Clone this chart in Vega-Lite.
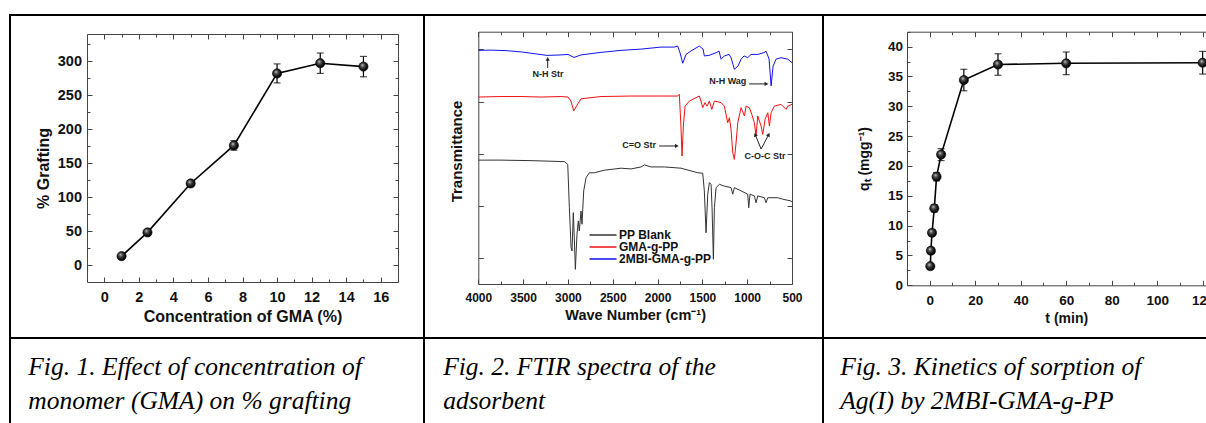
{
  "$schema": "https://vega.github.io/schema/vega-lite/v6.json",
  "background": "white",
  "padding": {"left": 9, "top": 14, "right": 0, "bottom": 0},
  "spacing": 0,
  "bounds": "flush",
  "columns": 3,
  "resolve": {"legend": {"color": "independent"}},
  "datasets": {
    "graft": [
      {"gma": 1, "graft": 13, "lo": 10, "hi": 16},
      {"gma": 2.5, "graft": 48, "lo": 45, "hi": 51},
      {"gma": 5, "graft": 120, "lo": 116, "hi": 124},
      {"gma": 7.5, "graft": 176, "lo": 169, "hi": 183},
      {"gma": 10, "graft": 282, "lo": 268, "hi": 296},
      {"gma": 12.5, "graft": 297, "lo": 282, "hi": 312},
      {"gma": 15, "graft": 292, "lo": 277, "hi": 307}
    ],
    "kinetics": [
      {"t": 0.25, "q": 3.2, "lo": 2.8, "hi": 3.6},
      {"t": 0.5, "q": 5.8, "lo": 5.3, "hi": 6.3},
      {"t": 1, "q": 8.8, "lo": 8.3, "hi": 9.3},
      {"t": 2, "q": 12.9, "lo": 12.3, "hi": 13.5},
      {"t": 3, "q": 18.2, "lo": 17.5, "hi": 18.9},
      {"t": 5, "q": 21.9, "lo": 20.9, "hi": 22.9},
      {"t": 15, "q": 34.4, "lo": 32.6, "hi": 36.2},
      {"t": 30, "q": 37.0, "lo": 35.2, "hi": 38.8},
      {"t": 60, "q": 37.2, "lo": 35.3, "hi": 39.1},
      {"t": 120, "q": 37.3, "lo": 35.4, "hi": 39.2}
    ],
    "spectra": [
      {"series": "PP Blank", "wn": 4000, "T": 49.1}, {"series": "PP Blank", "wn": 3747, "T": 49.1}, {"series": "PP Blank", "wn": 3412, "T": 48.9},
      {"series": "PP Blank", "wn": 3040, "T": 48.5}, {"series": "PP Blank", "wn": 3002, "T": 47.4}, {"series": "PP Blank", "wn": 2984, "T": 30.2},
      {"series": "PP Blank", "wn": 2965, "T": 14.4}, {"series": "PP Blank", "wn": 2954, "T": 13.1}, {"series": "PP Blank", "wn": 2940, "T": 28.3},
      {"series": "PP Blank", "wn": 2929, "T": 18.4}, {"series": "PP Blank", "wn": 2917, "T": 5.8}, {"series": "PP Blank", "wn": 2899, "T": 19.7},
      {"series": "PP Blank", "wn": 2884, "T": 25.0}, {"series": "PP Blank", "wn": 2873, "T": 21.0}, {"series": "PP Blank", "wn": 2854, "T": 28.9},
      {"series": "PP Blank", "wn": 2843, "T": 23.7}, {"series": "PP Blank", "wn": 2824, "T": 36.9}, {"series": "PP Blank", "wn": 2798, "T": 42.1},
      {"series": "PP Blank", "wn": 2761, "T": 44.1}, {"series": "PP Blank", "wn": 2705, "T": 44.1}, {"series": "PP Blank", "wn": 2594, "T": 45.1},
      {"series": "PP Blank", "wn": 2407, "T": 45.9}, {"series": "PP Blank", "wn": 2296, "T": 45.6}, {"series": "PP Blank", "wn": 2184, "T": 46.4},
      {"series": "PP Blank", "wn": 2147, "T": 47.2}, {"series": "PP Blank", "wn": 2073, "T": 46.4}, {"series": "PP Blank", "wn": 1924, "T": 46.4},
      {"series": "PP Blank", "wn": 1738, "T": 45.9}, {"series": "PP Blank", "wn": 1552, "T": 44.1}, {"series": "PP Blank", "wn": 1496, "T": 43.9},
      {"series": "PP Blank", "wn": 1478, "T": 36.9}, {"series": "PP Blank", "wn": 1459, "T": 20.3}, {"series": "PP Blank", "wn": 1440, "T": 35.6},
      {"series": "PP Blank", "wn": 1422, "T": 40.2}, {"series": "PP Blank", "wn": 1403, "T": 39.5}, {"series": "PP Blank", "wn": 1392, "T": 30.2},
      {"series": "PP Blank", "wn": 1377, "T": 9.8}, {"series": "PP Blank", "wn": 1366, "T": 30.2}, {"series": "PP Blank", "wn": 1347, "T": 38.2},
      {"series": "PP Blank", "wn": 1310, "T": 39.5}, {"series": "PP Blank", "wn": 1255, "T": 38.8}, {"series": "PP Blank", "wn": 1180, "T": 38.2},
      {"series": "PP Blank", "wn": 1161, "T": 35.6}, {"series": "PP Blank", "wn": 1143, "T": 38.2}, {"series": "PP Blank", "wn": 1068, "T": 36.9},
      {"series": "PP Blank", "wn": 994, "T": 35.6}, {"series": "PP Blank", "wn": 983, "T": 30.2}, {"series": "PP Blank", "wn": 968, "T": 35.6},
      {"series": "PP Blank", "wn": 920, "T": 34.9}, {"series": "PP Blank", "wn": 901, "T": 32.2}, {"series": "PP Blank", "wn": 882, "T": 34.9},
      {"series": "PP Blank", "wn": 808, "T": 34.2}, {"series": "PP Blank", "wn": 790, "T": 32.2}, {"series": "PP Blank", "wn": 770, "T": 34.2},
      {"series": "PP Blank", "wn": 659, "T": 34.2}, {"series": "PP Blank", "wn": 603, "T": 33.6}, {"series": "PP Blank", "wn": 510, "T": 32.9},
      {"series": "PP Blank", "wn": 500, "T": 32.5},
      {"series": "GMA-g-PP", "wn": 4000, "T": 74.1}, {"series": "GMA-g-PP", "wn": 3747, "T": 74.3}, {"series": "GMA-g-PP", "wn": 3524, "T": 74.3},
      {"series": "GMA-g-PP", "wn": 3300, "T": 74.1}, {"series": "GMA-g-PP", "wn": 3076, "T": 74.3}, {"series": "GMA-g-PP", "wn": 2999, "T": 74.1},
      {"series": "GMA-g-PP", "wn": 2966, "T": 72.5}, {"series": "GMA-g-PP", "wn": 2935, "T": 68.6}, {"series": "GMA-g-PP", "wn": 2898, "T": 70.9},
      {"series": "GMA-g-PP", "wn": 2854, "T": 73.4}, {"series": "GMA-g-PP", "wn": 2631, "T": 74.3}, {"series": "GMA-g-PP", "wn": 2296, "T": 74.5},
      {"series": "GMA-g-PP", "wn": 1962, "T": 74.5}, {"series": "GMA-g-PP", "wn": 1775, "T": 74.5}, {"series": "GMA-g-PP", "wn": 1757, "T": 75.2},
      {"series": "GMA-g-PP", "wn": 1739, "T": 62.6}, {"series": "GMA-g-PP", "wn": 1727, "T": 50.7}, {"series": "GMA-g-PP", "wn": 1712, "T": 62.6},
      {"series": "GMA-g-PP", "wn": 1693, "T": 70.5}, {"series": "GMA-g-PP", "wn": 1645, "T": 72.5}, {"series": "GMA-g-PP", "wn": 1534, "T": 74.5},
      {"series": "GMA-g-PP", "wn": 1515, "T": 72.5}, {"series": "GMA-g-PP", "wn": 1496, "T": 69.9}, {"series": "GMA-g-PP", "wn": 1470, "T": 71.9},
      {"series": "GMA-g-PP", "wn": 1448, "T": 70.5}, {"series": "GMA-g-PP", "wn": 1422, "T": 72.5}, {"series": "GMA-g-PP", "wn": 1395, "T": 69.2},
      {"series": "GMA-g-PP", "wn": 1366, "T": 72.5}, {"series": "GMA-g-PP", "wn": 1291, "T": 71.9}, {"series": "GMA-g-PP", "wn": 1255, "T": 70.5},
      {"series": "GMA-g-PP", "wn": 1217, "T": 63.9}, {"series": "GMA-g-PP", "wn": 1199, "T": 65.9}, {"series": "GMA-g-PP", "wn": 1180, "T": 61.3},
      {"series": "GMA-g-PP", "wn": 1161, "T": 52.0}, {"series": "GMA-g-PP", "wn": 1143, "T": 49.4}, {"series": "GMA-g-PP", "wn": 1124, "T": 56.0},
      {"series": "GMA-g-PP", "wn": 1105, "T": 63.9}, {"series": "GMA-g-PP", "wn": 1068, "T": 69.9}, {"series": "GMA-g-PP", "wn": 1031, "T": 66.6},
      {"series": "GMA-g-PP", "wn": 1012, "T": 70.5}, {"series": "GMA-g-PP", "wn": 976, "T": 69.9}, {"series": "GMA-g-PP", "wn": 949, "T": 67.3},
      {"series": "GMA-g-PP", "wn": 920, "T": 63.9}, {"series": "GMA-g-PP", "wn": 901, "T": 58.7}, {"series": "GMA-g-PP", "wn": 882, "T": 66.6},
      {"series": "GMA-g-PP", "wn": 845, "T": 62.6}, {"series": "GMA-g-PP", "wn": 826, "T": 59.3}, {"series": "GMA-g-PP", "wn": 800, "T": 65.3},
      {"series": "GMA-g-PP", "wn": 770, "T": 67.9}, {"series": "GMA-g-PP", "wn": 752, "T": 62.6}, {"series": "GMA-g-PP", "wn": 733, "T": 67.9},
      {"series": "GMA-g-PP", "wn": 697, "T": 70.5}, {"series": "GMA-g-PP", "wn": 622, "T": 71.2}, {"series": "GMA-g-PP", "wn": 566, "T": 69.2},
      {"series": "GMA-g-PP", "wn": 547, "T": 70.5}, {"series": "GMA-g-PP", "wn": 500, "T": 71.2},
      {"series": "2MBI-GMA-g-PP", "wn": 4000, "T": 92.6}, {"series": "2MBI-GMA-g-PP", "wn": 3858, "T": 92.7}, {"series": "2MBI-GMA-g-PP", "wn": 3691, "T": 92.5},
      {"series": "2MBI-GMA-g-PP", "wn": 3524, "T": 92.0}, {"series": "2MBI-GMA-g-PP", "wn": 3356, "T": 91.2}, {"series": "2MBI-GMA-g-PP", "wn": 3233, "T": 90.6},
      {"series": "2MBI-GMA-g-PP", "wn": 3077, "T": 90.8}, {"series": "2MBI-GMA-g-PP", "wn": 2999, "T": 91.0}, {"series": "2MBI-GMA-g-PP", "wn": 2932, "T": 89.8},
      {"series": "2MBI-GMA-g-PP", "wn": 2854, "T": 90.8}, {"series": "2MBI-GMA-g-PP", "wn": 2631, "T": 91.8}, {"series": "2MBI-GMA-g-PP", "wn": 2408, "T": 92.6},
      {"series": "2MBI-GMA-g-PP", "wn": 2184, "T": 93.1}, {"series": "2MBI-GMA-g-PP", "wn": 1961, "T": 93.9}, {"series": "2MBI-GMA-g-PP", "wn": 1816, "T": 93.9},
      {"series": "2MBI-GMA-g-PP", "wn": 1775, "T": 94.3}, {"series": "2MBI-GMA-g-PP", "wn": 1749, "T": 91.6}, {"series": "2MBI-GMA-g-PP", "wn": 1719, "T": 87.5},
      {"series": "2MBI-GMA-g-PP", "wn": 1682, "T": 91.0}, {"series": "2MBI-GMA-g-PP", "wn": 1626, "T": 92.4}, {"series": "2MBI-GMA-g-PP", "wn": 1534, "T": 94.3},
      {"series": "2MBI-GMA-g-PP", "wn": 1492, "T": 93.1}, {"series": "2MBI-GMA-g-PP", "wn": 1478, "T": 90.4}, {"series": "2MBI-GMA-g-PP", "wn": 1426, "T": 90.6},
      {"series": "2MBI-GMA-g-PP", "wn": 1347, "T": 91.7}, {"series": "2MBI-GMA-g-PP", "wn": 1314, "T": 92.3}, {"series": "2MBI-GMA-g-PP", "wn": 1291, "T": 89.1},
      {"series": "2MBI-GMA-g-PP", "wn": 1255, "T": 90.4}, {"series": "2MBI-GMA-g-PP", "wn": 1202, "T": 91.0}, {"series": "2MBI-GMA-g-PP", "wn": 1180, "T": 89.7},
      {"series": "2MBI-GMA-g-PP", "wn": 1143, "T": 85.1}, {"series": "2MBI-GMA-g-PP", "wn": 1102, "T": 86.4}, {"series": "2MBI-GMA-g-PP", "wn": 1068, "T": 89.1},
      {"series": "2MBI-GMA-g-PP", "wn": 1035, "T": 90.4}, {"series": "2MBI-GMA-g-PP", "wn": 994, "T": 89.7}, {"series": "2MBI-GMA-g-PP", "wn": 957, "T": 91.0},
      {"series": "2MBI-GMA-g-PP", "wn": 882, "T": 91.0}, {"series": "2MBI-GMA-g-PP", "wn": 812, "T": 91.7}, {"series": "2MBI-GMA-g-PP", "wn": 790, "T": 92.3},
      {"series": "2MBI-GMA-g-PP", "wn": 756, "T": 89.2}, {"series": "2MBI-GMA-g-PP", "wn": 733, "T": 78.5}, {"series": "2MBI-GMA-g-PP", "wn": 711, "T": 86.4},
      {"series": "2MBI-GMA-g-PP", "wn": 678, "T": 89.1}, {"series": "2MBI-GMA-g-PP", "wn": 622, "T": 89.7}, {"series": "2MBI-GMA-g-PP", "wn": 547, "T": 89.1},
      {"series": "2MBI-GMA-g-PP", "wn": 500, "T": 87.7}
    ],
    "notes": [
      {"label": "N-H Str", "wn": 3222, "T": 83.4},
      {"label": "N-H Wag", "wn": 1217, "T": 80.5},
      {"label": "C=O Str", "wn": 2207, "T": 55.0},
      {"label": "C-O-C Str", "wn": 800, "T": 50.7}
    ],
    "arrows": [
      {"dir": "up", "wn": 3226, "T": 85.6, "wn2": 3226, "T2": 89.2},
      {"dir": "right", "wn": 979, "T": 79.3, "wn2": 785, "T2": 79.3},
      {"dir": "right", "wn": 1983, "T": 54.7, "wn2": 1785, "T2": 54.7},
      {"dir": "upleft", "wn": 845, "T": 53.5, "wn2": 910, "T2": 59.2},
      {"dir": "upright", "wn": 845, "T": 53.5, "wn2": 760, "T2": 59.2}
    ]
  },
  "concat": [
    {
      "width": 414,
      "height": 323,
      "data": {"name": "graft"},
      "resolve": {"axis": {"x": "independent", "y": "independent"}},
      "layer": [
        {
          "mark": {"type": "line", "color": "#000", "strokeWidth": 1.6},
          "encoding": {
            "x": {"field": "gma", "type": "quantitative",
              "scale": {"domain": [-1, 17], "range": [77, 388], "nice": false, "zero": false},
              "axis": {"orient": "bottom", "offset": -56, "values": [0, 2, 4, 6, 8, 10, 12, 14, 16], "title": "Concentration of GMA (%)", "labelFontSize": 14.5, "titleFontSize": 16, "tickSize": -5, "labelPadding": 13.5, "titlePadding": 4}},
            "y": {"field": "graft", "type": "quantitative",
              "scale": {"domain": [-25, 340], "range": [267, 19], "nice": false, "zero": false},
              "axis": {"orient": "left", "offset": -77, "values": [0, 50, 100, 150, 200, 250, 300], "title": "% Grafting", "titleY": 153, "labelFontSize": 14.5, "titleFontSize": 16, "tickSize": -5, "labelPadding": 10.5, "titlePadding": 6}}
          }
        },
        {
          "mark": {"type": "rule", "color": "#000", "strokeWidth": 1.2},
          "encoding": {
            "x": {"field": "gma", "type": "quantitative", "axis": {"orient": "top", "offset": -19, "values": [0, 2, 4, 6, 8, 10, 12, 14, 16], "labels": false, "title": null, "tickSize": -5}},
            "y": {"field": "lo", "type": "quantitative", "axis": {"orient": "right", "offset": -26, "values": [0, 50, 100, 150, 200, 250, 300], "labels": false, "title": null, "tickSize": -5}},
            "y2": {"field": "hi"}
          }
        },
        {
          "mark": {"type": "tick", "orient": "horizontal", "color": "#000", "size": 7, "thickness": 1.2},
          "encoding": {
            "x": {"field": "gma", "type": "quantitative", "axis": {"orient": "bottom", "offset": -56, "values": [1, 3, 5, 7, 9, 11, 13, 15], "labels": false, "domain": false, "title": null, "tickSize": -3}},
            "y": {"field": "lo", "type": "quantitative", "axis": {"orient": "left", "offset": -77, "values": [25, 75, 125, 175, 225, 275, 325], "labels": false, "domain": false, "title": null, "tickSize": -3}}
          }
        },
        {
          "mark": {"type": "tick", "orient": "horizontal", "color": "#000", "size": 7, "thickness": 1.2},
          "encoding": {
            "x": {"field": "gma", "type": "quantitative", "axis": {"orient": "top", "offset": -19, "values": [1, 3, 5, 7, 9, 11, 13, 15], "labels": false, "domain": false, "title": null, "tickSize": -3}},
            "y": {"field": "hi", "type": "quantitative", "axis": {"orient": "right", "offset": -26, "values": [25, 75, 125, 175, 225, 275, 325], "labels": false, "domain": false, "title": null, "tickSize": -3}}
          }
        },
        {
          "mark": {"type": "point", "shape": "circle", "filled": true, "size": 85, "opacity": 1, "stroke": "#000", "strokeWidth": 0.6,
            "fill": {"gradient": "radial", "x1": 0.38, "y1": 0.32, "r1": 0, "x2": 0.45, "y2": 0.45, "r2": 0.6,
              "stops": [{"offset": 0, "color": "#d8d8d8"}, {"offset": 0.3, "color": "#555555"}, {"offset": 0.7, "color": "#111111"}, {"offset": 1, "color": "#000000"}]}},
          "encoding": {
            "x": {"field": "gma", "type": "quantitative", "axis": null},
            "y": {"field": "graft", "type": "quantitative", "axis": null}
          }
        }
      ]
    },
    {
      "width": 399,
      "height": 323,
      "resolve": {"axis": {"x": "independent", "y": "independent"}},
      "layer": [
        {
          "data": {"name": "spectra"},
          "mark": {"type": "line", "strokeWidth": 1},
          "encoding": {
            "x": {"field": "wn", "type": "quantitative",
              "scale": {"domain": [500, 4000], "range": [368, 54.3], "nice": false, "zero": false},
              "axis": {"orient": "bottom", "offset": -54, "values": [500, 1000, 1500, 2000, 2500, 3000, 3500, 4000], "format": "d", "title": "Wave Number (cm⁻¹)", "labelFontSize": 12, "titleFontSize": 14.5, "tickSize": -5, "labelPadding": 13, "titlePadding": 5}},
            "y": {"field": "T", "type": "quantitative",
              "scale": {"domain": [0, 100], "range": [269, 16.7], "nice": false, "zero": false},
              "axis": {"orient": "left", "offset": -54.3, "values": [10.2, 30.9, 51.6, 72.3, 93], "labels": false, "title": "Transmittance", "titleY": 136, "titleFontSize": 15, "tickSize": -5, "titlePadding": 13}},
            "color": {"field": "series", "type": "nominal",
              "scale": {"domain": ["PP Blank", "GMA-g-PP", "2MBI-GMA-g-PP"], "range": ["#333333", "#ee1111", "#1111ee"]},
              "legend": {"orient": "none", "legendX": 173, "legendY": 214, "title": null, "padding": 0, "labelFontSize": 12, "labelFontWeight": "bold", "labelFont": "Liberation Sans", "labelColor": "#111",
                "symbolType": "M-3,0H3", "symbolSize": 81, "symbolStrokeWidth": 1.5, "labelOffset": 10, "rowPadding": 0}}
          }
        },
        {
          "data": {"name": "notes"},
          "mark": {"type": "text", "font": "Liberation Sans", "fontWeight": "bold", "fontSize": 9, "color": "#222", "align": "center", "baseline": "middle"},
          "encoding": {
            "text": {"field": "label"},
            "x": {"field": "wn", "type": "quantitative", "axis": {"orient": "top", "offset": -16.7, "values": [500, 1000, 1500, 2000, 2500, 3000, 3500, 4000], "labels": false, "title": null, "tickSize": -5}},
            "y": {"field": "T", "type": "quantitative", "axis": {"orient": "right", "offset": -31, "values": [10.2, 30.9, 51.6, 72.3, 93], "labels": false, "title": null, "tickSize": -5}}
          }
        },
        {
          "data": {"name": "arrows"},
          "mark": {"type": "rule", "color": "#222", "strokeWidth": 1},
          "encoding": {
            "x": {"field": "wn", "type": "quantitative", "axis": {"orient": "bottom", "offset": -54, "values": [750, 1250, 1750, 2250, 2750, 3250, 3750], "labels": false, "domain": false, "title": null, "tickSize": -3}},
            "x2": {"field": "wn2"},
            "y": {"field": "T", "type": "quantitative", "axis": null},
            "y2": {"field": "T2"}
          }
        },
        {
          "data": {"name": "arrows"},
          "transform": [{"filter": "datum.dir === 'up'"}],
          "mark": {"type": "point", "shape": "triangle-up", "filled": true, "size": 18, "color": "#222", "opacity": 1},
          "encoding": {
            "x": {"field": "wn2", "type": "quantitative", "axis": {"orient": "top", "offset": -16.7, "values": [750, 1250, 1750, 2250, 2750, 3250, 3750], "labels": false, "domain": false, "title": null, "tickSize": -3}},
            "y": {"field": "T2", "type": "quantitative", "axis": null}
          }
        },
        {
          "data": {"name": "arrows"},
          "transform": [{"filter": "datum.dir === 'right'"}],
          "mark": {"type": "point", "shape": "triangle-right", "filled": true, "size": 18, "color": "#222", "opacity": 1},
          "encoding": {
            "x": {"field": "wn2", "type": "quantitative", "axis": null},
            "y": {"field": "T2", "type": "quantitative", "axis": null}
          }
        },
        {
          "data": {"name": "arrows"},
          "transform": [{"filter": "datum.dir === 'upleft'"}],
          "mark": {"type": "point", "shape": "triangle-up", "angle": 338, "filled": true, "size": 18, "color": "#222", "opacity": 1},
          "encoding": {
            "x": {"field": "wn2", "type": "quantitative", "axis": null},
            "y": {"field": "T2", "type": "quantitative", "axis": null}
          }
        },
        {
          "data": {"name": "arrows"},
          "transform": [{"filter": "datum.dir === 'upright'"}],
          "mark": {"type": "point", "shape": "triangle-up", "angle": 28, "filled": true, "size": 18, "color": "#222", "opacity": 1},
          "encoding": {
            "x": {"field": "wn2", "type": "quantitative", "axis": null},
            "y": {"field": "T2", "type": "quantitative", "axis": null}
          }
        }
      ]
    },
    {
      "width": 400,
      "height": 323,
      "data": {"name": "kinetics"},
      "resolve": {"axis": {"x": "independent", "y": "independent"}},
      "layer": [
        {
          "mark": {"type": "line", "color": "#000", "strokeWidth": 1.6},
          "encoding": {
            "x": {"field": "t", "type": "quantitative",
              "scale": {"domain": [-10, 130], "range": [84, 402.4], "nice": false, "zero": false},
              "axis": {"orient": "bottom", "offset": -52.7, "values": [0, 20, 40, 60, 80, 100, 120], "title": "t (min)", "labelFontSize": 13.5, "titleFontSize": 14, "tickSize": -5, "labelPadding": 13.5, "titlePadding": 4}},
            "y": {"field": "q", "type": "quantitative",
              "scale": {"domain": [0, 42.5], "range": [270.3, 16.7], "nice": false, "zero": false},
              "axis": {"orient": "left", "offset": -84, "values": [0, 5, 10, 15, 20, 25, 30, 35, 40], "title": "qₜ (mgg⁻¹)", "labelFontSize": 13.5, "titleFontSize": 14, "tickSize": -5, "labelPadding": 9.5, "titlePadding": 16}}
          }
        },
        {
          "mark": {"type": "rule", "color": "#000", "strokeWidth": 1.2},
          "encoding": {
            "x": {"field": "t", "type": "quantitative", "axis": {"orient": "top", "offset": -16.7, "values": [0, 20, 40, 60, 80, 100, 120], "labels": false, "title": null, "tickSize": -5}},
            "y": {"field": "lo", "type": "quantitative", "axis": null},
            "y2": {"field": "hi"}
          }
        },
        {
          "mark": {"type": "tick", "orient": "horizontal", "color": "#000", "size": 7, "thickness": 1.2},
          "encoding": {
            "x": {"field": "t", "type": "quantitative", "axis": {"orient": "bottom", "offset": -52.7, "values": [10, 30, 50, 70, 90, 110, 130], "labels": false, "domain": false, "title": null, "tickSize": -3}},
            "y": {"field": "lo", "type": "quantitative", "axis": {"orient": "left", "offset": -84, "values": [2.5, 7.5, 12.5, 17.5, 22.5, 27.5, 32.5, 37.5, 42.5], "labels": false, "domain": false, "title": null, "tickSize": -3}}
          }
        },
        {
          "mark": {"type": "tick", "orient": "horizontal", "color": "#000", "size": 7, "thickness": 1.2},
          "encoding": {
            "x": {"field": "t", "type": "quantitative", "axis": {"orient": "top", "offset": -16.7, "values": [10, 30, 50, 70, 90, 110, 130], "labels": false, "domain": false, "title": null, "tickSize": -3}},
            "y": {"field": "hi", "type": "quantitative", "axis": null}
          }
        },
        {
          "mark": {"type": "point", "shape": "circle", "filled": true, "size": 85, "opacity": 1, "stroke": "#000", "strokeWidth": 0.6,
            "fill": {"gradient": "radial", "x1": 0.38, "y1": 0.32, "r1": 0, "x2": 0.45, "y2": 0.45, "r2": 0.6,
              "stops": [{"offset": 0, "color": "#d8d8d8"}, {"offset": 0.3, "color": "#555555"}, {"offset": 0.7, "color": "#111111"}, {"offset": 1, "color": "#000000"}]}},
          "encoding": {
            "x": {"field": "t", "type": "quantitative", "axis": null},
            "y": {"field": "q", "type": "quantitative", "axis": null}
          }
        }
      ]
    },
    {
      "width": 414,
      "height": 100,
      "data": {"values": [{"caption": "Fig. 1. Effect of concentration of\nmonomer (GMA) on % grafting"}]},
      "mark": {"type": "text", "align": "left", "baseline": "alphabetic", "font": "Liberation Serif", "fontStyle": "italic", "fontSize": 25.5, "lineHeight": 33.5, "lineBreak": "\n", "color": "#000"},
      "encoding": {
        "text": {"field": "caption"},
        "x": {"datum": 0.044, "type": "quantitative", "scale": {"domain": [0, 1], "nice": false, "zero": false}, "axis": null},
        "y": {"datum": 0.63, "type": "quantitative", "scale": {"domain": [0, 1], "nice": false, "zero": false}, "axis": null}
      }
    },
    {
      "width": 399,
      "height": 100,
      "data": {"values": [{"caption": "Fig. 2. FTIR spectra of the\nadsorbent"}]},
      "mark": {"type": "text", "align": "left", "baseline": "alphabetic", "font": "Liberation Serif", "fontStyle": "italic", "fontSize": 25.5, "lineHeight": 33.5, "lineBreak": "\n", "color": "#000"},
      "encoding": {
        "text": {"field": "caption"},
        "x": {"datum": 0.048, "type": "quantitative", "scale": {"domain": [0, 1], "nice": false, "zero": false}, "axis": null},
        "y": {"datum": 0.63, "type": "quantitative", "scale": {"domain": [0, 1], "nice": false, "zero": false}, "axis": null}
      }
    },
    {
      "width": 400,
      "height": 100,
      "data": {"values": [{"caption": "Fig. 3. Kinetics of sorption of\nAg(I) by 2MBI-GMA-g-PP"}]},
      "mark": {"type": "text", "align": "left", "baseline": "alphabetic", "font": "Liberation Serif", "fontStyle": "italic", "fontSize": 25.5, "lineHeight": 33.5, "lineBreak": "\n", "color": "#000"},
      "encoding": {
        "text": {"field": "caption"},
        "x": {"datum": 0.043, "type": "quantitative", "scale": {"domain": [0, 1], "nice": false, "zero": false}, "axis": null},
        "y": {"datum": 0.63, "type": "quantitative", "scale": {"domain": [0, 1], "nice": false, "zero": false}, "axis": null}
      }
    }
  ],
  "config": {
    "view": {"stroke": "#000", "strokeWidth": 2},
    "axis": {
      "grid": false,
      "labelFont": "Liberation Sans",
      "titleFont": "Liberation Sans",
      "labelFontWeight": "bold",
      "titleFontWeight": "bold",
      "labelColor": "#111",
      "titleColor": "#111",
      "domainColor": "#444",
      "tickColor": "#444",
      "domainWidth": 1,
      "tickWidth": 1,
      "labelFlush": false,
      "labelOverlap": false
    }
  }
}
